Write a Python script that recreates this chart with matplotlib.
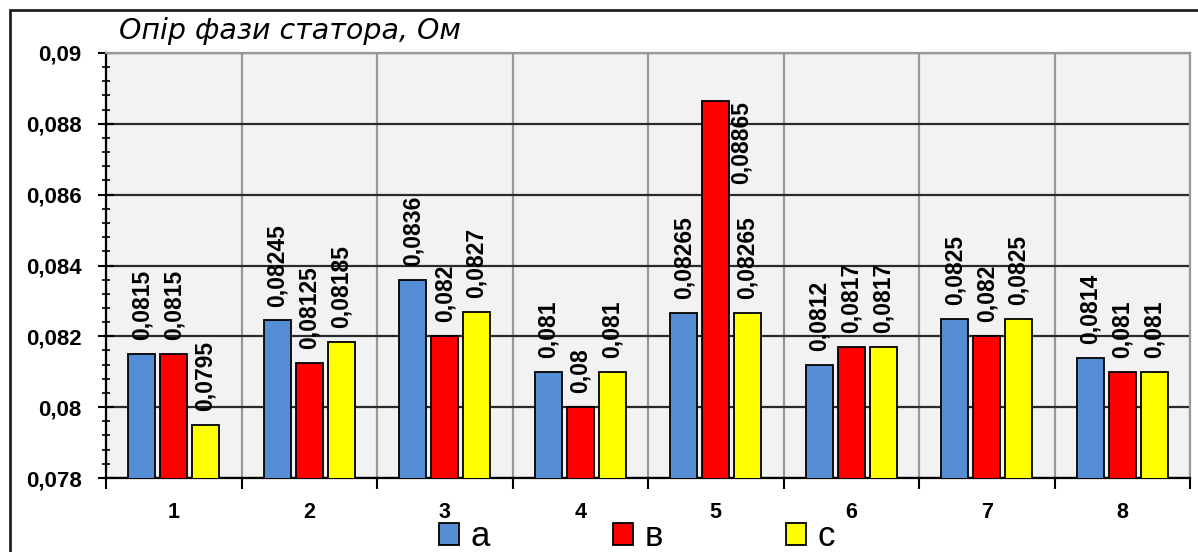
import matplotlib.pyplot as plt
import matplotlib.ticker as mticker
from matplotlib.patches import Rectangle
import numpy as np

plt.rcParams['font.family'] = ['Liberation Sans', 'DejaVu Sans']

# номери вимірів і опір кожної фази
points = [1, 2, 3, 4, 5, 6, 7, 8]
phase_a = [0.0815, 0.08245, 0.0836, 0.081, 0.08265, 0.0812, 0.0825, 0.0814]
phase_b = [0.0815, 0.08125, 0.082, 0.08, 0.08865, 0.0817, 0.082, 0.081]
phase_c = [0.0795, 0.08185, 0.0827, 0.081, 0.08265, 0.0817, 0.0825, 0.081]
phase_names = ['а', 'в', 'с']
phase_colors = ['#558ED5', '#FF0000', '#FFFF00']

W, H = 1198, 552
fig = plt.figure(figsize=(W / 100, H / 100), dpi=100)
ax = fig.add_axes([106 / W, 1 - 478 / H, (1190 - 106) / W, (478 - 53) / H])
ax.set_facecolor('#F2F2F2')

x = np.arange(len(points)) + 1
step = 0.235
width = 0.2
handles = []
for i, (vals, col) in enumerate(zip([phase_a, phase_b, phase_c], phase_colors)):
    pos = x + (i - 1) * step
    bars = ax.bar(pos, vals, width=width, bottom=0, color=col,
                  edgecolor='black', linewidth=1.3, zorder=3)
    handles.append(bars)
    for xp, v in zip(pos, vals):
        txt = f"{v:g}".replace('.', ',')
        if v > 0.087:
            # підпис не влазить над стовпцем - ставимо поруч, від верху
            ax.annotate(txt, (xp, v), xytext=(18, 0), textcoords='offset points',
                        rotation=90, ha='center', va='top',
                        fontsize=16.5, fontweight='bold', zorder=4)
        else:
            ax.annotate(txt, (xp, v), xytext=(0, 10), textcoords='offset points',
                        rotation=90, ha='center', va='bottom',
                        fontsize=16.5, fontweight='bold', zorder=4)

ax.set_ylim(0.078, 0.09)
ax.set_xlim(0.5, 8.5)

ax.yaxis.set_major_locator(mticker.MultipleLocator(0.002))
ax.yaxis.set_minor_locator(mticker.MultipleLocator(0.0004))
ax.yaxis.set_major_formatter(mticker.FuncFormatter(lambda v, p: f"{round(v, 4):g}".replace('.', ',')))
ax.tick_params(axis='y', which='major', direction='inout', length=11, width=1.5,
               labelsize=16, pad=12)
ax.tick_params(axis='y', which='minor', direction='inout', length=6, width=1.2)
for lbl in ax.get_yticklabels():
    lbl.set_fontweight('bold')

ax.set_xticks(x)
ax.set_xticklabels([str(p) for p in points], fontweight='bold')
ax.set_xticks(np.arange(0.5, 9, 1), minor=True)
ax.tick_params(axis='x', which='major', length=0, labelsize=15.5, pad=17)
ax.tick_params(axis='x', which='minor', direction='out', length=8, width=1.5)

ax.grid(axis='y', which='major', color='#2a2a2a', linewidth=1.6, zorder=1)
ax.grid(axis='x', which='minor', color='#999999', linewidth=1.6, zorder=1)
ax.set_axisbelow(True)

for side in ['top', 'right']:
    ax.spines[side].set_color('#999999')
    ax.spines[side].set_linewidth(1.6)
for side in ['left', 'bottom']:
    ax.spines[side].set_color('black')
    ax.spines[side].set_linewidth(1.6)

# рамка діаграми
fig.patches.append(Rectangle((10 / W, -0.2), 1.2, 1 - 10 / H + 0.2,
                             transform=fig.transFigure, fill=False,
                             edgecolor='#222222', linewidth=2))

fig.text(119 / W, 1 - 31 / H, 'Опір фази статора, Ом', family='DejaVu Sans',
         style='italic', fontsize=20.5, va='center', ha='left')

fig.legend(handles, phase_names, loc='center left',
           bbox_to_anchor=(439 / W, 1 - 537 / H), ncol=3, frameon=False,
           fontsize=25, handlelength=0.58, handleheight=0.58,
           handletextpad=0.32, columnspacing=3.55, borderpad=0, borderaxespad=0)

fig.savefig('out.png', dpi=100)
